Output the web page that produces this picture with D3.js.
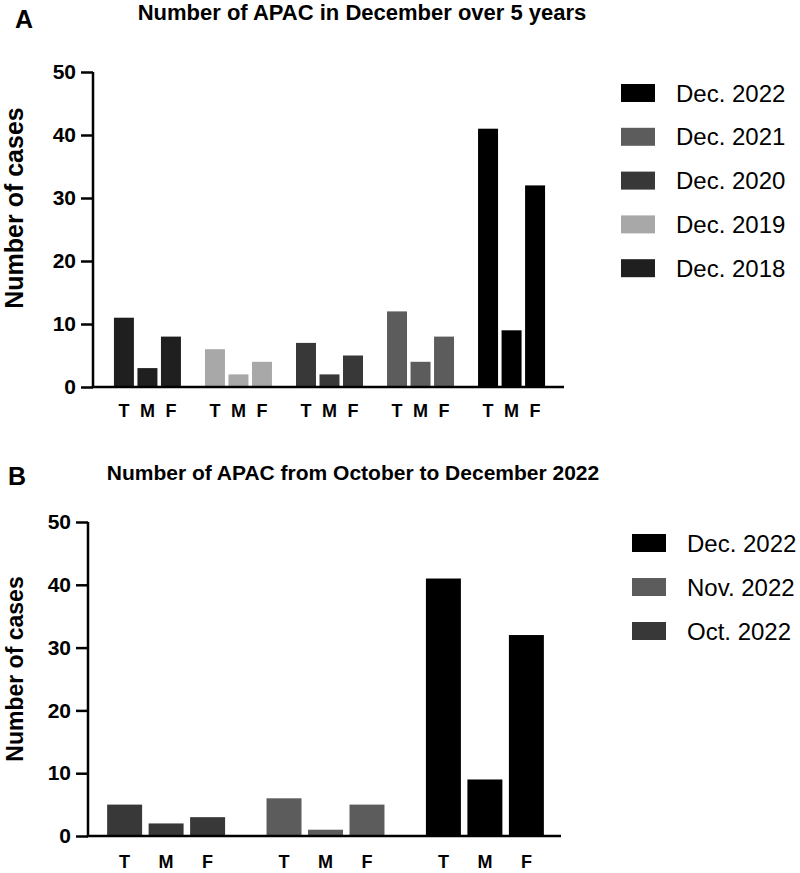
<!DOCTYPE html>
<html>
<head>
<meta charset="utf-8">
<script src="https://cdn.jsdelivr.net/npm/d3@7"></script>
<style>
  html, body { margin: 0; padding: 0; background: #fff; }
  svg { display: block; }
  text { font-family: "Liberation Sans", Arial, Helvetica, sans-serif; fill: #000; }
</style>
</head>
<body>
<svg id="chart" width="800" height="873"></svg>
<script>
// ---------- data ----------
const subCategories = ["T", "M", "F"];
const yTicks = [0, 10, 20, 30, 40, 50];

const groupsA = ["Dec. 2018", "Dec. 2019", "Dec. 2020", "Dec. 2021", "Dec. 2022"];
const valuesA = [
  [11, 3, 8],
  [6, 2, 4],
  [7, 2, 5],
  [12, 4, 8],
  [41, 9, 32]
];
const legendOrderA = ["Dec. 2022", "Dec. 2021", "Dec. 2020", "Dec. 2019", "Dec. 2018"];

const groupsB = ["Oct. 2022", "Nov. 2022", "Dec. 2022"];
const valuesB = [
  [5, 2, 3],
  [6, 1, 5],
  [41, 9, 32]
];
const legendOrderB = ["Dec. 2022", "Nov. 2022", "Oct. 2022"];

const seriesColors = {
  "Dec. 2022": "#000000",
  "Dec. 2021": "#5c5c5c",
  "Dec. 2020": "#383838",
  "Dec. 2019": "#a8a8a8",
  "Dec. 2018": "#1f1f1f",
  "Nov. 2022": "#5c5c5c",
  "Oct. 2022": "#383838"
};

const titleA = "Number of APAC in December over 5 years";
const titleB = "Number of APAC from October to December 2022";
const yTitle = "Number of cases";

// ---------- drawing ----------
const svg = d3.select("#chart");

function drawPanel(cfg) {
  const g = svg.append("g");

  const y = d3.scaleLinear().domain([0, 50]).range([cfg.y0, cfg.y1]);
  const x0 = d3.scaleBand().domain(cfg.groups)
    .range([cfg.xL, cfg.xR]).paddingInner(cfg.padIn).paddingOuter(cfg.padOut);
  const x1 = d3.scaleBand().domain(subCategories)
    .range([0, x0.bandwidth()]).paddingInner(cfg.subPad).paddingOuter(0);

  // bars
  cfg.groups.forEach((grp, gi) => {
    g.selectAll(null)
      .data(cfg.values[gi])
      .enter().append("rect")
      .attr("x", (d, i) => x0(grp) + x1(subCategories[i]))
      .attr("y", d => y(d))
      .attr("width", x1.bandwidth())
      .attr("height", d => y(0) - y(d))
      .attr("fill", seriesColors[grp]);

    // x labels (T M F)
    g.selectAll(null)
      .data(subCategories)
      .enter().append("text")
      .attr("x", d => x0(grp) + x1(d) + x1.bandwidth() / 2)
      .attr("y", cfg.xLabelY)
      .attr("text-anchor", "middle")
      .attr("font-size", cfg.xLabelSize)
      .attr("font-weight", "bold")
      .text(d => d);
  });

  // y axis
  const yAxis = d3.axisLeft(y).tickValues(yTicks).tickSize(12).tickPadding(5).tickFormat(d3.format("d"));
  const ya = g.append("g").attr("transform", `translate(${cfg.xL},0)`).call(yAxis);
  ya.select(".domain").attr("stroke", "#000").attr("stroke-width", 2.5)
    .attr("d", `M0,${cfg.y1}V${cfg.y0}`);
  ya.selectAll(".tick line").attr("stroke", "#000").attr("stroke-width", 2.5);
  ya.selectAll(".tick text")
    .attr("font-size", 21).attr("font-weight", "bold")
    .attr("font-family", '"Liberation Sans", Arial, sans-serif').attr("fill", "#000");

  // x axis line
  g.append("line")
    .attr("x1", cfg.xL - 1.25).attr("x2", cfg.xAxisEnd)
    .attr("y1", y(0)).attr("y2", y(0))
    .attr("stroke", "#000").attr("stroke-width", 2.5);

  // title
  g.append("text")
    .attr("x", cfg.titleX).attr("y", cfg.titleY)
    .attr("text-anchor", "middle")
    .attr("font-size", cfg.titleSize).attr("font-weight", "bold")
    .text(cfg.title);

  // panel letter
  g.append("text")
    .attr("x", cfg.letterX).attr("y", cfg.letterY)
    .attr("font-size", 25).attr("font-weight", "bold")
    .text(cfg.letter);

  // y title
  g.append("text")
    .attr("transform", `translate(${cfg.yTitleX},${cfg.yTitleCY}) rotate(-90)`)
    .attr("text-anchor", "middle")
    .attr("font-size", cfg.yTitleSize).attr("font-weight", "bold")
    .text(yTitle);

  // legend
  const lg = g.append("g");
  cfg.legend.forEach((name, i) => {
    const cy = cfg.legY + i * cfg.legStep;
    lg.append("rect")
      .attr("x", cfg.legX).attr("y", cy - 9)
      .attr("width", 34).attr("height", 18)
      .attr("fill", seriesColors[name]);
    lg.append("text")
      .attr("x", cfg.legX + 55).attr("y", cy + 8.5)
      .attr("font-size", 24)
      .text(name);
  });
}

drawPanel({
  groups: groupsA, values: valuesA, legend: legendOrderA,
  y0: 387, y1: 72, xL: 93, xR: 566, xAxisEnd: 564,
  padIn: 0.264, padOut: 0.23, subPad: 0.15,
  xLabelY: 417, xLabelSize: 18,
  title: titleA, titleX: 362, titleY: 20, titleSize: 22,
  letter: "A", letterX: 15, letterY: 28,
  yTitleX: 23, yTitleCY: 208, yTitleSize: 25,
  legX: 621, legY: 93, legStep: 43.8
});

drawPanel({
  groups: groupsB, values: valuesB, legend: legendOrderB,
  y0: 836, y1: 522, xL: 88, xR: 563, xAxisEnd: 561,
  padIn: 0.26, padOut: 0.12, subPad: 0.157,
  xLabelY: 868, xLabelSize: 18,
  title: titleB, titleX: 353, titleY: 480, titleSize: 21,
  letter: "B", letterX: 8, letterY: 485,
  yTitleX: 23, yTitleCY: 669, yTitleSize: 23,
  legX: 632, legY: 543, legStep: 44
});
</script>
</body>
</html>
